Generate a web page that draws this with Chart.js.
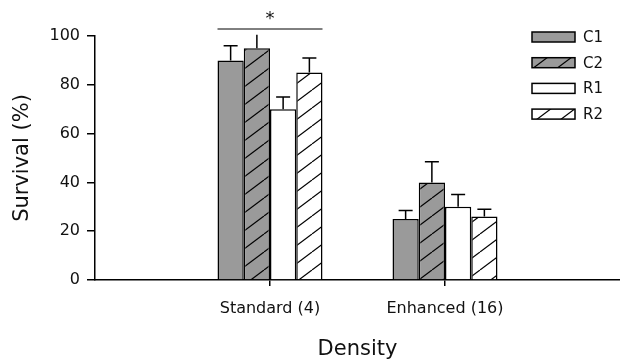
<!DOCTYPE html>
<html>
<head>
<meta charset="utf-8">
<script src="https://cdn.jsdelivr.net/npm/chart.js@4.4.0/dist/chart.umd.min.js"></script>
<style>
body { margin: 0; background: #fff; }
</style>
</head>
<body>
<canvas id="survChart" width="620" height="359"></canvas>
<script>
// data
var categories = ['Standard (4)', 'Enhanced (16)'];
var seriesNames = ['C1', 'C2', 'R1', 'R2'];
var c1Vals = [90, 25];
var c2Vals = [95, 40];
var r1Vals = [70, 30];
var r2Vals = [85, 26];
var c1Err = [6, 3.5];
var c2Err = [5.5, 8.5];
var r1Err = [5, 5];
var r2Err = [6, 3];
var yTicks = [0, 20, 40, 60, 80, 100];
var sigCategory = 'Standard (4)';
var sigMark = '*';

var fontFam = "'DejaVu Sans', Arial, sans-serif";
var grey = '#9a9a9a';

function hatch(bg) {
    var c = document.createElement('canvas');
    c.width = 24;
    c.height = 18;
    var g = c.getContext('2d');
    g.fillStyle = bg;
    g.fillRect(0, 0, 24, 18);
    g.strokeStyle = '#000';
    g.lineWidth = 1.2;
    [-24, 0, 24].forEach(function (dx) {
        g.beginPath();
        g.moveTo(dx, 18);
        g.lineTo(dx + 24, 0);
        g.stroke();
    });
    return g.createPattern(c, 'repeat');
}

// empty slots either side so the two groups sit where they do in the figure
var xLabels = [''].concat(categories, ['']);
function pad(a) { return [null].concat(a, [null]); }

var fills = [grey, hatch(grey), '#ffffff', hatch('#ffffff')];
var vals = [c1Vals, c2Vals, r1Vals, r2Vals];
var errs = [c1Err, c2Err, r1Err, r2Err];

var datasets = seriesNames.map(function (name, i) {
    return {
        label: name,
        data: pad(vals[i]),
        errors: pad(errs[i]),
        backgroundColor: fills[i],
        borderColor: '#000',
        borderWidth: 1.5,
        barPercentage: 1,
        categoryPercentage: 0.6
    };
});

var errorBars = {
    id: 'errorBars',
    afterDatasetsDraw: function (chart) {
        var ctx = chart.ctx;
        var yScale = chart.scales.y;
        ctx.save();
        ctx.strokeStyle = '#000';
        ctx.lineWidth = 1.5;
        chart.data.datasets.forEach(function (ds, i) {
            var meta = chart.getDatasetMeta(i);
            meta.data.forEach(function (bar, j) {
                var v = ds.data[j];
                if (v == null) return;
                var top = v + ds.errors[j];
                var yTop = yScale.getPixelForValue(top);
                ctx.beginPath();
                ctx.moveTo(bar.x, bar.y);
                ctx.lineTo(bar.x, yTop);
                if (top <= yScale.max) {
                    ctx.moveTo(bar.x - 7, yTop);
                    ctx.lineTo(bar.x + 7, yTop);
                }
                ctx.stroke();
            });
        });
        ctx.restore();
    }
};

var extras = {
    id: 'extras',
    afterDraw: function (chart) {
        var ctx = chart.ctx;
        var area = chart.chartArea;
        ctx.save();

        // significance bar over one group
        var k = xLabels.indexOf(sigCategory);
        var first = chart.getDatasetMeta(0).data[k];
        var last = chart.getDatasetMeta(seriesNames.length - 1).data[k];
        var x0 = first.x - first.width / 2;
        var x1 = last.x + last.width / 2;
        var yl = area.top - 7;
        ctx.strokeStyle = '#000';
        ctx.lineWidth = 1;
        ctx.beginPath();
        ctx.moveTo(x0, yl);
        ctx.lineTo(x1, yl);
        ctx.stroke();
        ctx.fillStyle = '#111';
        ctx.font = '18px ' + fontFam;
        ctx.textAlign = 'center';
        ctx.textBaseline = 'middle';
        ctx.fillText(sigMark, (x0 + x1) / 2, yl - 10);

        // legend
        ctx.font = '15px ' + fontFam;
        ctx.textAlign = 'left';
        chart.data.datasets.forEach(function (ds, i) {
            var cy = 37 + i * 25.7;
            ctx.fillStyle = ds.backgroundColor;
            ctx.fillRect(532, cy - 5, 43, 10);
            ctx.lineWidth = 1.5;
            ctx.strokeRect(532, cy - 5, 43, 10);
            ctx.fillStyle = '#111';
            ctx.fillText(ds.label, 583, cy + 1);
        });
        ctx.restore();
    }
};

var area = document.getElementById('survChart').getContext('2d');
var survChart = new Chart(area, {
    type: 'bar',
    data: {
        labels: xLabels,
        datasets: datasets
    },
    options: {
        responsive: false,
        animation: false,
        layout: {
            padding: { top: 36, right: 0, left: 0, bottom: 0 }
        },
        scales: {
            x: {
                offset: false,
                grid: {
                    offset: false,
                    drawOnChartArea: false,
                    tickLength: 6,
                    lineWidth: 1.5,
                    color: function (c) {
                        return (c.index > 0 && c.index < xLabels.length - 1) ? '#000' : 'rgba(0,0,0,0)';
                    }
                },
                border: { color: '#000', width: 1.5 },
                ticks: {
                    color: '#111',
                    padding: 13,
                    maxRotation: 0,
                    autoSkip: false,
                    font: { family: fontFam, size: 16 }
                },
                title: {
                    display: true,
                    text: 'Density',
                    color: '#111',
                    padding: 0,
                    font: { family: fontFam, size: 21, lineHeight: 0.9 }
                },
                afterFit: function (s) {
                    s.height = 79;
                    s.paddingLeft = 0;
                    s.paddingRight = 0;
                }
            },
            y: {
                min: yTicks[0],
                max: yTicks[yTicks.length - 1],
                grid: {
                    drawOnChartArea: false,
                    tickLength: 8,
                    lineWidth: 1.5,
                    color: '#000'
                },
                border: { color: '#000', width: 1.5 },
                ticks: {
                    stepSize: yTicks[1] - yTicks[0],
                    color: '#111',
                    padding: 7,
                    font: { family: fontFam, size: 16 }
                },
                title: {
                    display: true,
                    text: 'Survival (%)',
                    color: '#111',
                    padding: { top: 12, bottom: 0 },
                    font: { family: fontFam, size: 21, lineHeight: 1 }
                },
                afterFit: function (s) { s.width = 95; }
            }
        },
        plugins: {
            legend: { display: false },
            tooltip: { enabled: false }
        }
    },
    plugins: [errorBars, extras]
});
</script>
</body>
</html>
